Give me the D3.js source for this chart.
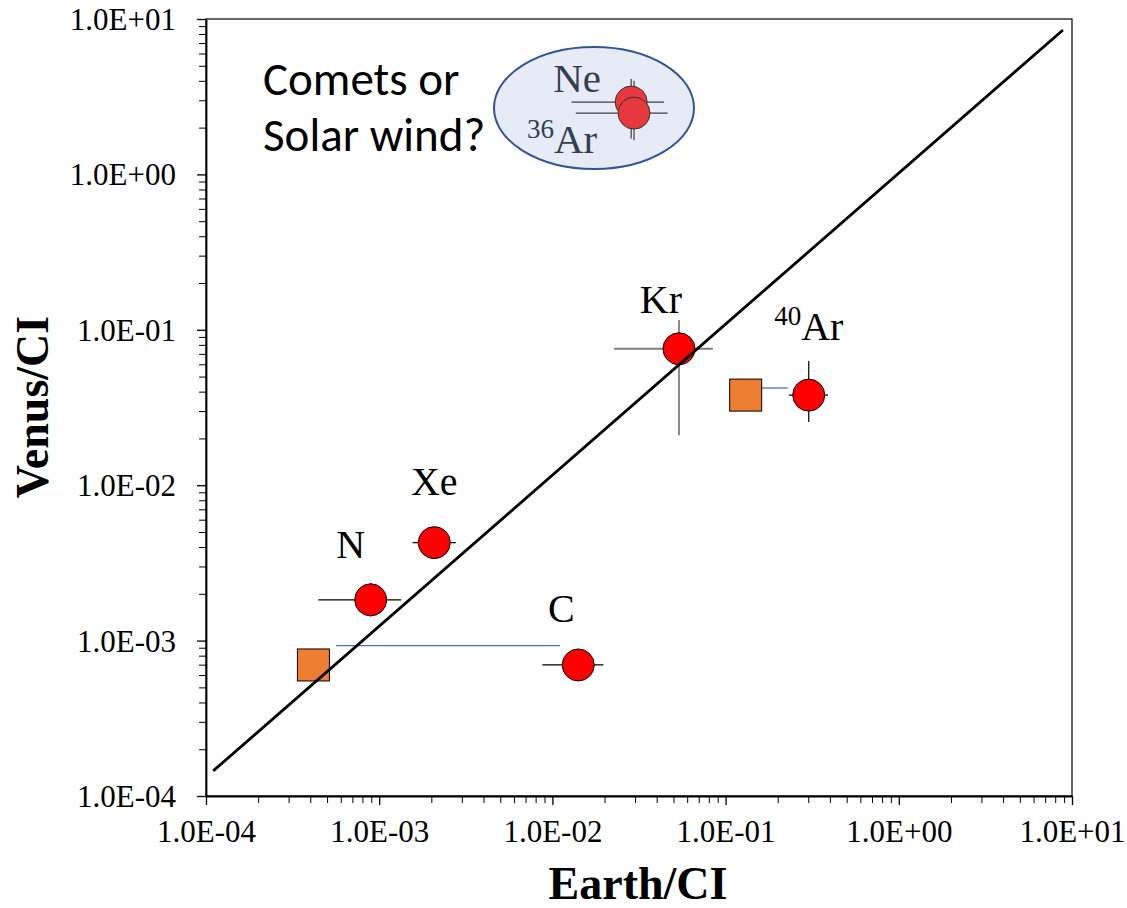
<!DOCTYPE html>
<html>
<head>
<meta charset="utf-8">
<title>Venus vs Earth volatiles</title>
<script src="https://d3js.org/d3.v7.min.js"></script>
<style>
body { margin: 0; background: #fff; }
.tick text { font-family: "Liberation Serif", "Times New Roman", serif; font-size: 31px; fill: #000; }
.axis path, .axis line { stroke: #000; }
.lbl { font-family: "Liberation Serif", "Times New Roman", serif; font-size: 40px; fill: #000; }
.title { font-family: "Liberation Serif", "Times New Roman", serif; font-weight: bold; font-size: 46px; fill: #000; }
.note { font-family: Calibri, Carlito, Lato, sans-serif; font-size: 47px; fill: #000; }
</style>
</head>
<body>
<div id="chart"></div>
<script>
// element ratios, Earth/CI (x) and Venus/CI (y)
var elements = ["N", "Xe", "C", "Kr", "40Ar", "Ne", "36Ar"];
var earth    = [0.000893, 0.00208, 0.0141, 0.0538, 0.302, 0.0285, 0.0296];
var venus    = [0.00183, 0.00427, 0.000697, 0.0755, 0.038, 2.92, 2.48];
var earthLo  = [0.000445, 0.00156, 0.00875, 0.0227, 0.232, 0.0129, 0.01365];
var earthHi  = [0.00134, 0.00277, 0.0197, 0.0845, 0.39, 0.0441, 0.0463];
var venusLo  = [0.00143, 0.00427, 0.000697, 0.021, 0.0255, 1.7, 1.66];
var venusHi  = [0.00235, 0.00427, 0.000697, 0.1156, 0.063, 4.11, 4.0];

// alternative Earth values (squares) and their connectors
var altName  = ["C", "40Ar"];
var altEarth = [0.000417, 0.1306];
var altVenus = [0.000697, 0.038];
var linkX1   = [0.000563, 0.158];
var linkX2   = [0.01107, 0.2283];
var linkY    = [0.000927, 0.0422];

// reference line
var refX = [1.1e-4, 8.87];
var refY = [1.45e-4, 8.5];

var W = 1127, H = 908;
var mLeft = 206, mRight = 1072, mTop = 19, mBottom = 796;

var svg = d3.select("#chart").append("svg")
  .attr("width", W).attr("height", H);

var x = d3.scaleLog().domain([1e-4, 10]).range([mLeft, mRight]);
var y = d3.scaleLog().domain([1e-4, 10]).range([mBottom, mTop]);

var majors = [1e-4, 1e-3, 1e-2, 1e-1, 1, 10];
var minors = [];
for (var e = -4; e < 1; e++) {
  for (var k = 2; k <= 9; k++) minors.push(k * Math.pow(10, e));
}

function fmt(d) {
  var p = Math.round(Math.log10(d));
  var s = p < 0 ? "-" : "+";
  return "1.0E" + s + String(Math.abs(p)).padStart(2, "0");
}

// frame
svg.append("rect")
  .attr("x", mLeft).attr("y", mTop)
  .attr("width", mRight - mLeft).attr("height", mBottom - mTop)
  .attr("fill", "none").attr("stroke", "#000").attr("stroke-width", 1.2);

// minor ticks
svg.append("g").attr("class", "axis")
  .attr("transform", "translate(0," + mBottom + ")")
  .call(d3.axisBottom(x).tickValues(minors).tickSize(7).tickFormat(""))
  .call(function(g) { g.select(".domain").remove(); });
svg.append("g").attr("class", "axis")
  .attr("transform", "translate(" + mLeft + ",0)")
  .call(d3.axisLeft(y).tickValues(minors).tickSize(7).tickFormat(""))
  .call(function(g) { g.select(".domain").remove(); });

// major ticks with labels
var xa = svg.append("g").attr("class", "axis")
  .attr("transform", "translate(0," + mBottom + ")")
  .call(d3.axisBottom(x).tickValues(majors).tickSize(9).tickSizeOuter(0).tickFormat(fmt).tickPadding(15));
xa.select(".domain").attr("stroke-width", 1.8);
xa.selectAll(".tick line").attr("stroke-width", 1.3);

var ya = svg.append("g").attr("class", "axis")
  .attr("transform", "translate(" + mLeft + ",0)")
  .call(d3.axisLeft(y).tickValues(majors).tickSize(9).tickSizeOuter(0).tickFormat(fmt).tickPadding(21));
ya.select(".domain").attr("stroke-width", 1.8);
ya.selectAll(".tick line").attr("stroke-width", 1.3);
ya.selectAll(".tick text").attr("dy", "0.34em");

// axis titles
svg.append("text").attr("class", "title")
  .attr("x", 638).attr("y", 899)
  .attr("text-anchor", "middle").text("Earth/CI");
svg.append("text").attr("class", "title")
  .attr("transform", "translate(48,407) rotate(-90)")
  .attr("text-anchor", "middle").text("Venus/CI");

// ellipse around Ne and 36Ar
svg.append("ellipse")
  .attr("cx", 594).attr("cy", 108).attr("rx", 100).attr("ry", 61)
  .attr("fill", "#E6EBF5").attr("stroke", "#2F5597").attr("stroke-width", 2);

svg.append("text").attr("class", "note").attr("x", 263).attr("y", 95).text("Comets or");
svg.append("text").attr("class", "note").attr("x", 263).attr("y", 151).text("Solar wind?");

var pts = elements.map(function(n, i) {
  return { name: n, x: earth[i], y: venus[i], xl: earthLo[i], xh: earthHi[i], yl: venusLo[i], yh: venusHi[i] };
});

function barColor(d) {
  if (d.name === "Kr") return "#7F7F7F";
  if (d.name === "Ne" || d.name === "36Ar") return "#404040";
  return "#000";
}

// connectors
altName.forEach(function(n, i) {
  svg.append("line")
    .attr("x1", x(linkX1[i])).attr("x2", x(linkX2[i]))
    .attr("y1", y(linkY[i])).attr("y2", y(linkY[i]))
    .attr("stroke", "#4472C4").attr("stroke-width", 1.3);
});

// error bars
var eb = svg.append("g");
pts.forEach(function(d) {
  var w = d.name === "Kr" ? 1.8 : 1.2;
  eb.append("line")
    .attr("x1", x(d.xl)).attr("x2", x(d.xh))
    .attr("y1", y(d.y)).attr("y2", y(d.y))
    .attr("stroke", barColor(d)).attr("stroke-width", w);
  if (d.yl !== d.yh) {
    eb.append("line")
      .attr("x1", x(d.x)).attr("x2", x(d.x))
      .attr("y1", y(d.yl)).attr("y2", y(d.yh))
      .attr("stroke", barColor(d)).attr("stroke-width", w);
  }
});

// squares
svg.selectAll("rect.alt")
  .data(altName)
  .enter().append("rect")
  .attr("class", "alt")
  .attr("x", function(d, i) { return x(altEarth[i]) - 16; })
  .attr("y", function(d, i) { return y(altVenus[i]) - 16; })
  .attr("width", 32).attr("height", 32)
  .attr("fill", "#ED7D31").attr("stroke", "#000").attr("stroke-width", 1);

// circles
svg.selectAll("circle.pt")
  .data(pts)
  .enter().append("circle")
  .attr("class", "pt")
  .attr("cx", function(d) { return x(d.x); })
  .attr("cy", function(d) { return y(d.y); })
  .attr("r", 16)
  .attr("fill", function(d) { return (d.name === "Ne" || d.name === "36Ar") ? "#E8383F" : "#FF0000"; })
  .attr("stroke", function(d) { return (d.name === "Ne" || d.name === "36Ar") ? "#333" : "#000"; })
  .attr("stroke-width", 1);

// reference line
svg.append("line")
  .attr("x1", x(refX[0])).attr("y1", y(refY[0]))
  .attr("x2", x(refX[1])).attr("y2", y(refY[1]))
  .attr("stroke", "#000").attr("stroke-width", 2.8);

// element labels (pixel offsets from the point)
var off = {
  "N": [-20, -42], "Xe": [0, -48], "C": [-17, -43], "Kr": [-18, -36],
  "40Ar": [0, -55], "Ne": [-54, -10], "36Ar": [-72, 40]
};
pts.forEach(function(d) {
  var t = svg.append("text").attr("class", "lbl")
    .attr("x", x(d.x) + off[d.name][0])
    .attr("y", y(d.y) + off[d.name][1])
    .attr("text-anchor", "middle");
  if (d.name === "Ne" || d.name === "36Ar") t.style("fill", "#333F50").style("font-size", "41px");
  var m = d.name.match(/^(\d+)(.*)$/);
  if (m) {
    t.append("tspan").attr("font-size", "27px").attr("dy", "-15").text(m[1]);
    t.append("tspan").attr("dy", "15").text(m[2]);
  } else {
    t.text(d.name);
  }
});
</script>
</body>
</html>
